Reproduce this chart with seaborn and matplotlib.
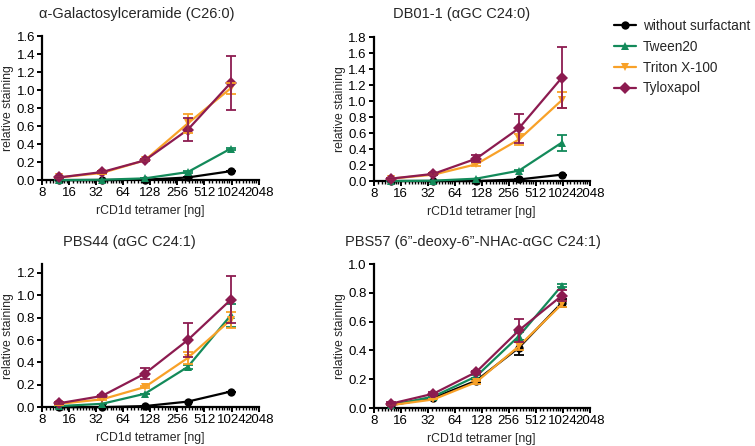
import numpy as np
import pandas as pd
import matplotlib
matplotlib.use('Agg')
import matplotlib.pyplot as plt
from matplotlib.ticker import LogLocator, FixedLocator, NullFormatter, FuncFormatter
import seaborn as sns

# concentratii tetramer (dilutii de 3x pornind de la 1000 ng)
dose = [12.35, 37.04, 111.1, 333.3, 1000.0]
groups = ['without surfactant', 'Tween20', 'Triton X-100', 'Tyloxapol']
colors = ['#000000', '#138a5a', '#f8a128', '#8c1b50']
markers = ['o', '^', 'v', 'D']

titles = ['α-Galactosylceramide (C26:0)', 'DB01-1 (αGC C24:0)',
          'PBS44 (αGC C24:1)', 'PBS57 (6”-deoxy-6”-NHAc-αGC C24:1)']

# valori medii, cate o lista per grup
galcer_mean = [[0.0, 0.0, 0.005, 0.03, 0.10],
               [0.0, 0.005, 0.02, 0.09, 0.35],
               [0.03, 0.08, 0.22, 0.63, 1.02],
               [0.03, 0.09, 0.22, 0.56, 1.08]]
galcer_err = [[0, 0, 0, 0, 0],
              [0, 0, 0, 0.01, 0.01],
              [0.01, 0.01, 0.01, 0.11, 0.06],
              [0.01, 0.01, 0.01, 0.13, 0.30]]

db01_mean = [[0.0, 0.0, 0.0, 0.02, 0.08],
             [0.0, 0.005, 0.03, 0.13, 0.48],
             [0.03, 0.08, 0.21, 0.52, 1.01],
             [0.03, 0.09, 0.28, 0.66, 1.29]]
db01_err = [[0, 0, 0, 0, 0],
            [0, 0, 0, 0.01, 0.10],
            [0.01, 0.01, 0.02, 0.07, 0.10],
            [0.01, 0.01, 0.04, 0.18, 0.38]]

pbs44_mean = [[0.0, 0.0, 0.01, 0.05, 0.14],
              [0.01, 0.03, 0.12, 0.36, 0.82],
              [0.03, 0.07, 0.18, 0.44, 0.78],
              [0.035, 0.10, 0.30, 0.60, 0.96]]
pbs44_err = [[0, 0, 0, 0, 0],
             [0, 0, 0, 0.02, 0.10],
             [0.01, 0.01, 0.01, 0.05, 0.07],
             [0.01, 0.01, 0.05, 0.15, 0.21]]

pbs57_mean = [[0.02, 0.07, 0.19, 0.42, 0.73],
              [0.02, 0.08, 0.22, 0.50, 0.85],
              [0.02, 0.06, 0.18, 0.43, 0.72],
              [0.03, 0.10, 0.25, 0.54, 0.78]]
pbs57_err = [[0, 0, 0.01, 0.05, 0.03],
             [0, 0, 0.01, 0.03, 0.01],
             [0, 0, 0.01, 0.03, 0.02],
             [0.01, 0.01, 0.01, 0.08, 0.04]]

means = [galcer_mean, db01_mean, pbs44_mean, pbs57_mean]
errs = [galcer_err, db01_err, pbs44_err, pbs57_err]
ymax = [1.6, 1.8, 1.28, 1.0]
ytop_tick = [1.6, 1.8, 1.2, 1.0]

sns.set_theme(style='ticks')
plt.rcParams['font.family'] = ['Liberation Sans', 'DejaVu Sans']

fig = plt.figure(figsize=(7.55, 4.46), dpi=100)
# pozitiile axelor in fractiuni din figura
boxes = [(0.0556, 0.596, 0.287, 0.323),
         (0.495, 0.594, 0.286, 0.323),
         (0.0556, 0.087, 0.287, 0.321),
         (0.495, 0.085, 0.286, 0.323)]
title_pos = [(0.181, 0.968), (0.611, 0.968), (0.172, 0.457), (0.627, 0.457)]

for i in range(4):
    ax = fig.add_axes(boxes[i])
    rows = []
    for g, name in enumerate(groups):
        for d, m, e in zip(dose, means[i][g], errs[i][g]):
            rows.append({'dose': d, 'value': m, 'err': e, 'group': name})
    df = pd.DataFrame(rows)

    # bare de eroare desenate sub linii
    for g, name in enumerate(groups):
        sub = df[df['group'] == name]
        ax.errorbar(sub['dose'], sub['value'], yerr=sub['err'], fmt='none',
                    ecolor=colors[g], elinewidth=1.3, capsize=3.5, capthick=1.3,
                    zorder=2 + g)

    sns.lineplot(data=df, x='dose', y='value', hue='group', style='group',
                 hue_order=groups, style_order=groups, palette=colors,
                 markers=dict(zip(groups, markers)), dashes=False,
                 linewidth=1.6, markersize=6, markeredgewidth=0,
                 legend=(i == 0), ax=ax, zorder=3)

    if i == 0:
        handles, labels = ax.get_legend_handles_labels()
        ax.get_legend().remove()

    ax.set_xscale('log', base=2)
    ax.set_xlim(8, 2048)
    ax.set_ylim(0, ymax[i])
    ax.xaxis.set_major_locator(FixedLocator([8, 16, 32, 64, 128, 256, 512, 1024, 2048]))
    ax.xaxis.set_major_formatter(FuncFormatter(lambda v, p: '%d' % round(v)))
    ax.xaxis.set_minor_locator(LogLocator(base=2, subs=np.linspace(1, 2, 10)[1:-1], numticks=50))
    ax.xaxis.set_minor_formatter(NullFormatter())
    ax.set_yticks(np.arange(0, ytop_tick[i] + 0.01, 0.2))
    ax.yaxis.set_major_formatter(FuncFormatter(lambda v, p: '%.1f' % v))

    for s in ['top', 'right']:
        ax.spines[s].set_visible(False)
    for s in ['left', 'bottom']:
        ax.spines[s].set_linewidth(1.6)
        ax.spines[s].set_color('black')
    ax.tick_params(axis='both', which='major', length=3.5, width=1.4, labelsize=9.5,
                   colors='black', pad=1.5)
    ax.tick_params(axis='x', which='minor', length=2.5, width=1.0, color='black')

    ax.set_xlabel('rCD1d tetramer [ng]', fontsize=8.8, labelpad=4)
    ax.set_ylabel('relative staining', fontsize=8.8, labelpad=2)
    fig.text(title_pos[i][0], title_pos[i][1], titles[i], fontsize=10.5,
             ha='center', va='center')
    for c in ax.get_children():
        try:
            c.set_clip_on(False)
        except Exception:
            pass

fig.legend(handles, labels, loc='upper left', bbox_to_anchor=(0.797, 0.985),
           frameon=False, fontsize=9.8, handlelength=1.6, labelspacing=0.5,
           handletextpad=0.5)

plt.savefig('out.png', dpi=100)
